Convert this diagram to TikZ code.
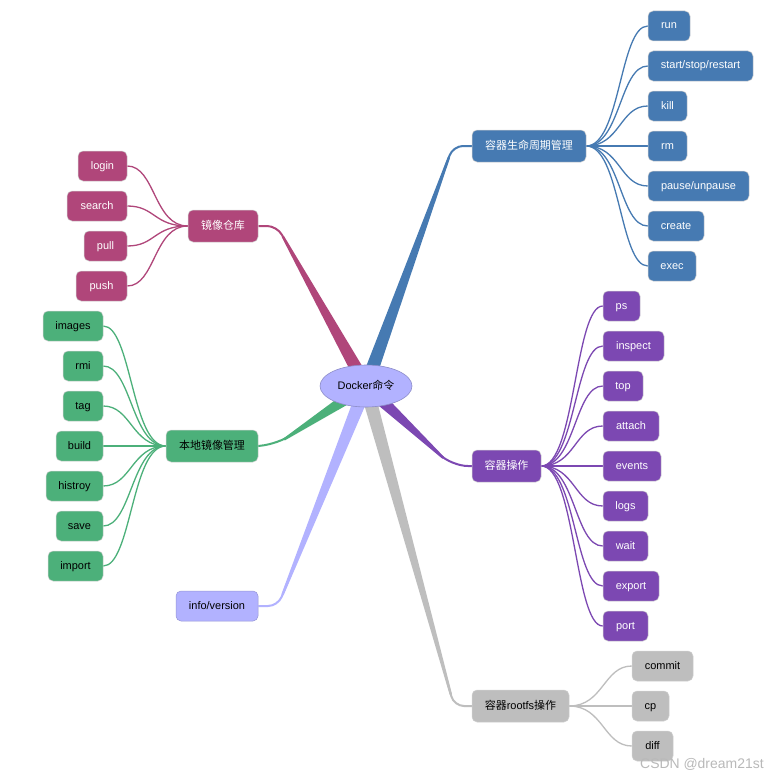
\documentclass[tikz,border=0pt]{standalone}
\usepackage{fontspec}
\setmainfont{Liberation Sans}
\newfontfamily\cjk{Noto Sans CJK SC}
\usetikzlibrary{calc,backgrounds,shapes.geometric}
\definecolor{cblue}{RGB}{70,122,178}
\definecolor{cmag}{RGB}{176,70,122}
\definecolor{cgreen}{RGB}{76,176,122}
\definecolor{clav}{RGB}{178,178,255}
\definecolor{cpurp}{RGB}{124,72,178}
\definecolor{cgray}{RGB}{190,190,190}
\definecolor{cwm}{RGB}{185,185,185}
\tikzset{
  box/.style={rounded corners=5bp, minimum height=30bp, inner sep=0pt, text height=8bp, text depth=2bp, draw=black!18, line width=0.5bp, font=\fontsize{11}{13}\selectfont},
  hub/.style={box, minimum height=32bp},
  wt/.style={text=white},
  link/.style={line width=1.3bp},
}
\newcommand\mmbranch[5]{%
  \coordinate (tK) at #2;
  \coordinate (tS) at (#1);
  \coordinate (tP) at ($(tK)!12bp!(tS)$);
  \fill[#4] ($(tS)!7bp!90:(tK)$) -- ($(tP)!1.2bp!-90:(tS)$) -- ($(tP)!1.2bp!90:(tS)$) -- ($(tS)!7bp!-90:(tK)$) -- cycle;
  \draw[#4, line width=2bp, rounded corners=#5] (tS) -- (tK) -- (#3);
}
\begin{document}
\begin{tikzpicture}[x=1bp,y=-1bp]
\useasboundingbox (0,0) rectangle (781,778);

% root
\node[ellipse, minimum width=92bp, minimum height=42bp, inner sep=0pt, text height=8bp, text depth=2bp, fill=clav, draw={rgb,255:red,140;green,140;blue,200}, line width=0.6bp, font=\fontsize{11}{13}\selectfont] (root) at (366,386) {Docker{\cjk 命令}};

% hubs
\node[hub, fill=cblue, wt, minimum width=114bp] (lc) at (529,146) {{\cjk 容器生命周期管理}};
\node[hub, fill=cmag, wt, minimum width=70bp] (repo) at (223,226) {{\cjk 镜像仓库}};
\node[hub, fill=cgreen, minimum width=92bp] (local) at (212,446) {{\cjk 本地镜像管理}};
\node[box, fill=clav, draw={rgb,255:red,150;green,150;blue,215}, minimum width=82bp, minimum height=30bp] (info) at (217,606) {info/version};
\node[hub, fill=cpurp, wt, minimum width=69bp] (ops) at (506.5,466) {{\cjk 容器操作}};
\node[hub, fill=cgray, minimum width=97bp] (rfs) at (520.5,706) {{\cjk 容器}rootfs{\cjk 操作}};

% blue leaves
\node[box, fill=cblue, wt, minimum width=42bp] (run) at (669,26) {run};
\node[box, fill=cblue, wt, minimum width=105bp] (ssr) at (700.5,66) {start/stop/restart};
\node[box, fill=cblue, wt, minimum width=39bp] (kill) at (667.5,106) {kill};
\node[box, fill=cblue, wt, minimum width=39bp] (rm) at (667.5,146) {rm};
\node[box, fill=cblue, wt, minimum width=101bp] (pause) at (698.5,186) {pause/unpause};
\node[box, fill=cblue, wt, minimum width=56bp] (create) at (676,226) {create};
\node[box, fill=cblue, wt, minimum width=48bp] (exec) at (672,266) {exec};

% magenta leaves
\node[box, fill=cmag, wt, minimum width=49bp] (login) at (102.5,166) {login};
\node[box, fill=cmag, wt, minimum width=60bp] (search) at (97,206) {search};
\node[box, fill=cmag, wt, minimum width=43bp] (pull) at (105.5,246) {pull};
\node[box, fill=cmag, wt, minimum width=51bp] (push) at (101.5,286) {push};

% green leaves
\node[box, fill=cgreen, minimum width=60bp] (images) at (73,326) {images};
\node[box, fill=cgreen, minimum width=40bp] (rmi) at (83,366) {rmi};
\node[box, fill=cgreen, minimum width=40bp] (tag) at (83,406) {tag};
\node[box, fill=cgreen, minimum width=47bp] (build) at (79.5,446) {build};
\node[box, fill=cgreen, minimum width=57bp] (histroy) at (74.5,486) {histroy};
\node[box, fill=cgreen, minimum width=47bp] (save) at (79.5,526) {save};
\node[box, fill=cgreen, minimum width=55bp] (import) at (75.5,566) {import};

% purple leaves
\node[box, fill=cpurp, wt, minimum width=37bp] (ps) at (621.5,306) {ps};
\node[box, fill=cpurp, wt, minimum width=61bp] (inspect) at (633.5,346) {inspect};
\node[box, fill=cpurp, wt, minimum width=40bp] (top) at (623,386) {top};
\node[box, fill=cpurp, wt, minimum width=56bp] (attach) at (631,426) {attach};
\node[box, fill=cpurp, wt, minimum width=58bp] (events) at (632,466) {events};
\node[box, fill=cpurp, wt, minimum width=45bp] (logs) at (625.5,506) {logs};
\node[box, fill=cpurp, wt, minimum width=45bp] (wait) at (625.5,546) {wait};
\node[box, fill=cpurp, wt, minimum width=56bp] (export) at (631,586) {export};
\node[box, fill=cpurp, wt, minimum width=45bp] (port) at (625.5,626) {port};

% gray leaves
\node[box, fill=cgray, minimum width=61bp] (commit) at (662.5,666) {commit};
\node[box, fill=cgray, minimum width=37bp] (cp) at (650.5,706) {cp};
\node[box, fill=cgray, minimum width=41bp] (diff) at (652.5,746) {diff};

% watermark
\node[anchor=base west, inner sep=0pt, text=cwm, font=\fontsize{14}{16}\selectfont] (wm) at (640,768) {CSDN @dream21st};

\begin{scope}[on background layer]
  \fill[white] (0,0) rectangle (781,778);
  \mmbranch{root.center}{(453,146)}{lc.west}{cblue}{10}
  \mmbranch{root.center}{(277,226)}{repo.east}{cmag}{10}
  \mmbranch{root.center}{(274,446)}{local.east}{cgreen}{18}
  \mmbranch{root.center}{(278,606)}{info.east}{clav}{10}
  \mmbranch{root.center}{(452,466)}{ops.west}{cpurp}{16}
  \mmbranch{root.center}{(454,706)}{rfs.west}{cgray}{10}

  \foreach \n in {run,ssr,kill,rm,pause,create,exec}
    \draw[link,cblue] (lc.east) .. controls +(34,0) and +(-28,0) .. (\n.west);
  \foreach \n in {ps,inspect,top,attach,events,logs,wait,export,port}
    \draw[link,cpurp] (ops.east) .. controls +(34,0) and +(-28,0) .. (\n.west);
  \foreach \n in {commit,cp,diff}
    \draw[link,cgray] (rfs.east) .. controls +(34,0) and +(-28,0) .. (\n.west);
  \foreach \n in {login,search,pull,push}
    \draw[link,cmag] (repo.west) .. controls +(-34,0) and +(28,0) .. (\n.east);
  \foreach \n in {images,rmi,tag,build,histroy,save,import}
    \draw[link,cgreen] (local.west) .. controls +(-34,0) and +(28,0) .. (\n.east);
\end{scope}
\end{tikzpicture}
\end{document}
